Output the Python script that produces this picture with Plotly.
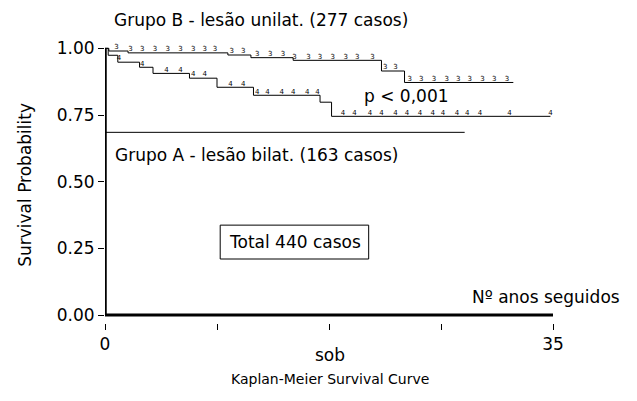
import numpy as np
import plotly.graph_objects as go

# Group B (upper) Kaplan-Meier steps
b_times = [0, 0.3, 1.8, 9.6, 11.4, 14.7, 21.6, 23.4]
b_surv = [1.0, 0.99, 0.983, 0.975, 0.965, 0.955, 0.915, 0.872]
b_end = 31.9
b_censor = [0.9, 2.0, 2.9, 3.9, 4.9, 5.9, 6.9, 7.8, 8.6, 9.9, 10.8, 11.9, 12.9, 13.9,
            14.8, 15.9, 16.8, 17.8, 18.8, 19.7, 20.9, 21.9, 22.7, 23.8, 24.7, 25.7,
            26.7, 27.6, 28.5, 29.5, 30.4, 31.4]

# Group A (lower) Kaplan-Meier steps
a_times = [0, 0.25, 1.0, 2.7, 3.75, 6.6, 8.75, 11.6, 16.8, 17.7]
a_surv = [1.0, 0.974, 0.948, 0.929, 0.906, 0.888, 0.854, 0.824, 0.798, 0.745]
a_end = 34.8
a_censor = [1.1, 2.9, 4.8, 5.9, 6.9, 7.8, 9.8, 10.8, 11.9, 12.7, 13.8, 14.7, 15.8,
            16.6, 18.6, 19.5, 20.7, 21.6, 22.7, 23.6, 24.6, 25.6, 26.4, 27.5, 28.3,
            29.3, 31.6, 34.8]

ref_level = 0.685
ref_end = 28.1

x_tickvals = [0, 8.75, 17.5, 26.25, 35]
x_ticktext = ["0", "", "", "", "35"]
y_tickvals = [0, 0.25, 0.5, 0.75, 1.0]
y_ticktext = ["0.00", "0.25", "0.50", "0.75", "1.00"]

FONT = "DejaVu Sans"


def step_at(times, surv, t):
    idx = np.searchsorted(np.array(times), np.array(t), side="right") - 1
    return np.array(surv)[idx]


fig = go.Figure()

for times, surv, end, cens, mark in [(b_times, b_surv, b_end, b_censor, "3"),
                                     (a_times, a_surv, a_end, a_censor, "4")]:
    fig.add_trace(go.Scatter(x=list(times) + [end], y=list(surv) + [surv[-1]],
                             mode="lines", line=dict(color="black", width=1, shape="hv"),
                             hoverinfo="skip", showlegend=False, cliponaxis=False))
    fig.add_trace(go.Scatter(x=cens, y=step_at(times, surv, cens), mode="text",
                             text=[mark] * len(cens), textposition="top center",
                             textfont=dict(family=FONT, size=7, color="black"),
                             showlegend=False, cliponaxis=False))

# reference horizontal line for group A label
fig.add_trace(go.Scatter(x=[0, ref_end], y=[ref_level, ref_level], mode="lines",
                         line=dict(color="black", width=1), showlegend=False))

# axis lines
fig.add_shape(type="line", x0=0, x1=0, y0=0, y1=1.0, line=dict(color="black", width=3.5))
fig.add_shape(type="line", x0=0, x1=35, y0=0, y1=0, line=dict(color="black", width=3))

# Total box
fig.add_shape(type="rect", x0=9.0, x1=20.6, y0=0.21, y1=0.337, line=dict(color="black", width=1))

tf = dict(family=FONT, size=17, color="black")
anns = [
    dict(x=20.1, y=0.821, text="p < 0,001"),
    dict(x=0.6, y=0.60, text="Grupo A - lesão bilat. (163 casos)"),
    dict(x=9.5, y=0.274, text="Total 440 casos"),
    dict(x=28.5, y=0.0675, text="Nº anos seguidos"),
]
for a in anns:
    fig.add_annotation(xref="x", yref="y", showarrow=False, xanchor="left", yanchor="middle",
                       font=tf, **a)

fig.add_annotation(xref="paper", yref="paper", x=0.0156, y=1.098,
                   text="Grupo B - lesão unilat. (277 casos)", showarrow=False, font=tf,
                   xanchor="left", yanchor="middle")
fig.add_annotation(xref="paper", yref="paper", x=0.502, y=-0.116, text="sob", showarrow=False,
                   font=tf, xanchor="center", yanchor="middle")
fig.add_annotation(xref="paper", yref="paper", x=0.502, y=-0.203, text="Kaplan-Meier Survival Curve",
                   showarrow=False, font=dict(family=FONT, size=14, color="black"),
                   xanchor="center", yanchor="middle")
fig.add_annotation(xref="paper", yref="paper", x=-0.179, y=0.5, text="Survival Probability",
                   showarrow=False, font=tf, textangle=-90, xanchor="center", yanchor="middle")

fig.update_layout(
    width=637, height=401,
    margin=dict(l=97, r=92, t=39, b=86),
    paper_bgcolor="white", plot_bgcolor="white",
    font=tf,
    xaxis=dict(range=[0, 35], tickvals=x_tickvals, ticktext=x_ticktext, ticks="outside",
               ticklen=6, tickcolor="black", showgrid=False, zeroline=False, showline=False,
               tickfont=tf),
    yaxis=dict(range=[-0.03, 1.005], tickvals=y_tickvals, ticktext=y_ticktext, ticks="outside",
               ticklen=6, tickcolor="black", showgrid=False, zeroline=False, showline=False,
               tickfont=tf),
)

fig.write_html("out.html")
